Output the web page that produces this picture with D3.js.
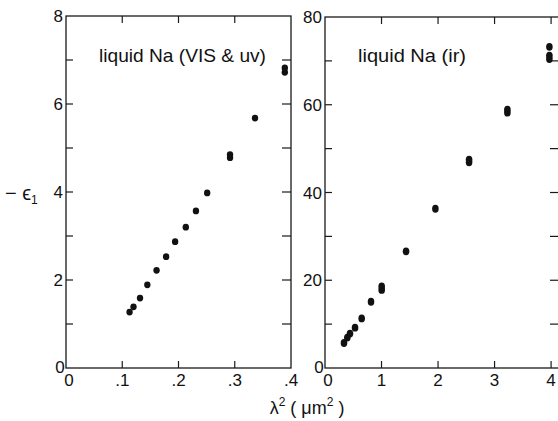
<!DOCTYPE html>
<html>
<head>
<meta charset="utf-8">
<script src="https://cdn.jsdelivr.net/npm/d3@7"></script>
<style>
  body { margin: 0; background: #fff; }
  text { font-family: "Liberation Sans", Arial, sans-serif; fill: #111; }
</style>
</head>
<body>
<svg id="chart" width="558" height="421"></svg>
<script>
// left panel : visible & uv  (lambda^2 in um^2, -eps1)
const visX = [0.113, 0.120, 0.1316, 0.1446, 0.161, 0.178, 0.194, 0.213, 0.231, 0.251, 0.2916, 0.2916, 0.336, 0.389, 0.389];
const visY = [1.27, 1.39, 1.59, 1.89, 2.22, 2.53, 2.87, 3.20, 3.57, 3.98, 4.78, 4.85, 5.68, 6.72, 6.82];

// right panel : infrared
const irX = [0.336, 0.395, 0.442, 0.531, 0.649, 0.814, 1.003, 1.003, 1.434, 1.953, 2.549, 2.549, 3.227, 3.227, 3.97, 3.97, 3.97];
const irY = [5.7, 6.93, 7.85, 9.2, 11.3, 15.1, 17.8, 18.6, 26.6, 36.3, 46.9, 47.5, 58.2, 58.9, 70.4, 71.2, 73.2];

const visXTicks = [0.1, 0.2, 0.3];
const visXLabels = [".1", ".2", ".3", ".4"];
const visYTicks = [1, 2, 3, 4, 5, 6, 7];
const visYLabels = [2, 4, 6, 8];

const irXTicks = [1, 2, 3, 4];
const irXLabels = ["1", "2", "3", "4"];
const irYTicks = [10, 20, 30, 40, 50, 60, 70];
const irYLabels = [20, 40, 60, 80];

const svg = d3.select("#chart");
const ink = "#1a1a1a";

function panel(o){
	let x = d3.scaleLinear().domain(o.xDom).range([o.x0, o.x1]);
	let y = d3.scaleLinear().domain(o.yDom).range([o.y0, o.y1]);
	let g = svg.append("g");

	// frame
	g.append("rect")
		.attr("x", o.x0).attr("y", o.y1)
		.attr("width", o.x1 - o.x0).attr("height", o.y0 - o.y1)
		.attr("fill", "none").attr("stroke", ink).attr("stroke-width", 1.3);

	let tl = 7;
	// x ticks, bottom and top, inward
	g.selectAll(".xb").data(o.xTicks).enter().append("line")
		.attr("x1", d => x(d)).attr("x2", d => x(d))
		.attr("y1", o.y0).attr("y2", o.y0 - tl)
		.attr("stroke", ink).attr("stroke-width", 1.2);
	g.selectAll(".xt").data(o.xTicks).enter().append("line")
		.attr("x1", d => x(d)).attr("x2", d => x(d))
		.attr("y1", o.y1).attr("y2", o.y1 + tl)
		.attr("stroke", ink).attr("stroke-width", 1.2);
	// y ticks, left and right, inward
	g.selectAll(".yl").data(o.yTicks).enter().append("line")
		.attr("x1", o.x0).attr("x2", o.x0 + tl)
		.attr("y1", d => y(d)).attr("y2", d => y(d))
		.attr("stroke", ink).attr("stroke-width", 1.2);
	g.selectAll(".yr").data(o.yTicks).enter().append("line")
		.attr("x1", o.x1).attr("x2", o.x1 - 9)
		.attr("y1", d => y(d)).attr("y2", d => y(d))
		.attr("stroke", ink).attr("stroke-width", 1.2);

	// labels
	g.selectAll(".xlab").data(o.xLabels).enter().append("text")
		.attr("x", (d, i) => x(o.xLabelVals[i]))
		.attr("y", 386)
		.attr("text-anchor", "middle")
		.attr("font-size", 17)
		.text(d => d);
	g.selectAll(".ylab").data(o.yLabels).enter().append("text")
		.attr("x", o.x0 - 3)
		.attr("y", d => y(d) + 6)
		.attr("text-anchor", "end")
		.attr("font-size", 17)
		.text(d => d);
	// the two zeros at the origin
	g.append("text").attr("x", o.x0 - 6).attr("y", 373)
		.attr("text-anchor", "middle").attr("font-size", 17).text("0");
	g.append("text").attr("x", o.x0 + 3).attr("y", 386)
		.attr("text-anchor", "middle").attr("font-size", 17).text("0");

	g.append("text").attr("x", o.tx).attr("y", 62)
		.attr("font-size", 19).attr("textLength", o.tw)
		.attr("lengthAdjust", "spacingAndGlyphs")
		.text(o.title);

	// points
	g.selectAll(".pt").data(o.px).enter().append("ellipse")
		.attr("cx", d => x(d))
		.attr("cy", (d, i) => y(o.py[i]))
		.attr("rx", o.rx).attr("ry", o.ry)
		.attr("fill", "#111");
}

panel({
	xDom: [0, 0.4], yDom: [0, 8],
	x0: 66, x1: 291, y0: 368, y1: 16,
	xTicks: visXTicks, yTicks: visYTicks,
	xLabels: visXLabels, xLabelVals: [0.1, 0.2, 0.3, 0.4],
	yLabels: visYLabels,
	title: "liquid Na (VIS & uv)", tx: 99, tw: 167,
	px: visX, py: visY, rx: 3.2, ry: 3.4
});

panel({
	xDom: [0, 4.14], yDom: [0, 80],
	x0: 325, x1: 559, y0: 368, y1: 17,
	xTicks: irXTicks, yTicks: irYTicks,
	xLabels: irXLabels, xLabelVals: irXTicks,
	yLabels: irYLabels,
	title: "liquid Na  (ir)", tx: 358, tw: 108,
	px: irX, py: irY, rx: 3.3, ry: 3.9
});

// axis titles
let xt = svg.append("text").attr("x", 307).attr("y", 414)
	.attr("text-anchor", "middle").attr("font-size", 18);
xt.append("tspan").text("λ");
xt.append("tspan").attr("font-size", 12).attr("dy", -8).text("2");
xt.append("tspan").attr("dy", 8).text(" ( μm");
xt.append("tspan").attr("font-size", 12).attr("dy", -8).text("2");
xt.append("tspan").attr("dy", 8).text(" )");

let yt = svg.append("text").attr("x", 5).attr("y", 200).attr("font-size", 20);
yt.append("tspan").text("− ϵ");
yt.append("tspan").attr("font-size", 12).attr("dy", 4).text("1");
</script>
</body>
</html>
